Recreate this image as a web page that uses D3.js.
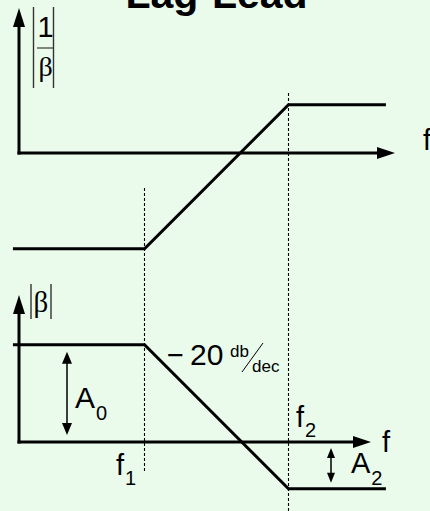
<!DOCTYPE html>
<html>
<head>
<meta charset="utf-8">
<script src="https://cdn.jsdelivr.net/npm/d3@7"></script>
<style>
  html, body { margin: 0; padding: 0; background: #eafbec; }
  svg { display: block; }
</style>
</head>
<body>
<script>
// ---- data ----
const title = "Lag-Lead";
const breakFreqs = [10, 100];               // f1, f2
const breakLabels = ["1", "2"];             // subscripts of f1, f2
const curveFreqs = [1.22, 10, 100, 475];    // corner points of the asymptotes
const betaDb = [13.5, 13.5, -6.5, -6.5];    // |β| in dB
const invBetaDb = [-13.3, -13.3, 6.7, 6.7]; // |1/β| in dB
const slopeLabel = ["−", "20", "db", "dec"];
const gainLabels = ["A", "0", "A", "2"];

// ---- layout ----
const W = 430, H = 511;
const svg = d3.select("body").append("svg").attr("width", W).attr("height", H);
const bg = "#eafbec";
svg.append("rect").attr("width", W).attr("height", H).attr("fill", bg);

const x = d3.scaleLog().domain([breakFreqs[0], breakFreqs[1]]).range([144.5, 288.5]);
const yTop = d3.scaleLinear().domain([0, 20]).range([153, 9]);
const yBot = d3.scaleLinear().domain([0, 20]).range([442, 298]);

const sans = "'Liberation Sans', Arial, sans-serif";
const serif = "'Liberation Serif', 'Times New Roman', serif";
const ink = "#000";

// title (cut off at the top edge, as in the reference)
svg.append("text").attr("x", 216.5).attr("y", 7.5).attr("text-anchor", "middle")
  .attr("font-family", sans).attr("font-weight", "bold").attr("font-size", 41)
  .attr("fill", ink).text(title);

// dashed break lines
const dashes = [[188, 472], [93, 511]];
breakFreqs.forEach((f, i) => {
  svg.append("line").attr("x1", x(f)).attr("x2", x(f))
    .attr("y1", dashes[i][0]).attr("y2", dashes[i][1])
    .attr("stroke", ink).attr("stroke-width", 1.1).attr("stroke-dasharray", "3,2");
});

// axes with arrowheads
function axisV(x0, yTip, yEnd) {
  svg.append("line").attr("x1", x0).attr("x2", x0).attr("y1", yTip + 12).attr("y2", yEnd)
    .attr("stroke", ink).attr("stroke-width", 3);
  svg.append("path").attr("d", `M${x0},${yTip} L${x0 - 6},${yTip + 19} L${x0 + 6},${yTip + 19} Z`)
    .attr("fill", ink);
}
function axisH(y0, xStart, xTip) {
  svg.append("line").attr("x1", xStart).attr("x2", xTip - 10).attr("y1", y0).attr("y2", y0)
    .attr("stroke", ink).attr("stroke-width", 3);
  svg.append("path").attr("d", `M${xTip},${y0} L${xTip - 18},${y0 - 6} L${xTip - 18},${y0 + 6} Z`)
    .attr("fill", ink);
}
axisV(19, 8, yTop(0) + 1.5);
axisH(yTop(0), 17.5, 395);
axisV(19, 295, yBot(0) + 1.5);
axisH(yBot(0), 17.5, 371);

// curves
const line = d3.line();
svg.append("path")
  .attr("d", line(curveFreqs.map((f, i) => [x(f), yTop(invBetaDb[i])])))
  .attr("fill", "none").attr("stroke", ink).attr("stroke-width", 3);
svg.append("path")
  .attr("d", line(curveFreqs.map((f, i) => [x(f), yBot(betaDb[i])])))
  .attr("fill", "none").attr("stroke", ink).attr("stroke-width", 3);

// labels
function fText(xx, yy, t, size, fam, anchor) {
  return svg.append("text").attr("x", xx).attr("y", yy).attr("font-family", fam || sans)
    .attr("font-size", size).attr("fill", ink).attr("text-anchor", anchor || "start").text(t);
}
function bar(xx, y1, y2) {
  svg.append("line").attr("x1", xx).attr("x2", xx).attr("y1", y1).attr("y2", y2)
    .attr("stroke", "#333").attr("stroke-width", 1.4);
}
// |1/β|
bar(33.5, 7, 88); bar(53.5, 7, 88);
fText(45.5, 37, "1", 29, sans, "middle");
svg.append("line").attr("x1", 37).attr("x2", 53.5).attr("y1", 48).attr("y2", 48).attr("stroke", "#444").attr("stroke-width", 1.3);
fText(45.5, 76, "β", 28, serif, "middle");
fText(423, 150, "f", 29);

// |β|
bar(31, 284, 319); bar(51, 284, 319);
fText(41, 312, "β", 29, serif, "middle");
fText(382, 452, "f", 29);

// f1, f2 labels
const fLabelPos = [[116, 475], [296, 427]];
breakFreqs.forEach((f, i) => {
  const t = fText(fLabelPos[i][0], fLabelPos[i][1], "f", 29);
  t.append("tspan").attr("font-size", 20).attr("dy", 10).attr("dx", 1).text(breakLabels[i]);
});

// slope label
fText(167, 365, slopeLabel[0], 29);
fText(190, 365, slopeLabel[1], 30);
fText(230, 357, slopeLabel[2], 17);
fText(252, 372, slopeLabel[3], 17);
svg.append("line").attr("x1", 263).attr("y1", 343).attr("x2", 242).attr("y2", 372)
  .attr("stroke", ink).attr("stroke-width", 1);

// gain arrows
function dblArrow(xx, y1, y2, w, h) {
  svg.append("line").attr("x1", xx).attr("x2", xx).attr("y1", y1 + h - 2).attr("y2", y2 - h + 2)
    .attr("stroke", ink).attr("stroke-width", 1.5);
  svg.append("path").attr("d", `M${xx},${y1} L${xx - w / 2},${y1 + h} L${xx + w / 2},${y1 + h} Z`).attr("fill", ink);
  svg.append("path").attr("d", `M${xx},${y2} L${xx - w / 2},${y2 - h} L${xx + w / 2},${y2 - h} Z`).attr("fill", ink);
}
dblArrow(67, yBot(betaDb[0]) + 7, yBot(0) - 7, 10, 12);
dblArrow(331, yBot(0) + 6, yBot(betaDb[3]) - 6, 8, 10);

const a0 = fText(75, 408, gainLabels[0], 30);
a0.append("tspan").attr("font-size", 20).attr("dy", 12).attr("dx", 1).text(gainLabels[1]);
const a2 = fText(351, 473, gainLabels[2], 29);
a2.append("tspan").attr("font-size", 20).attr("dy", 12).attr("dx", 1).text(gainLabels[3]);
</script>
</body>
</html>
